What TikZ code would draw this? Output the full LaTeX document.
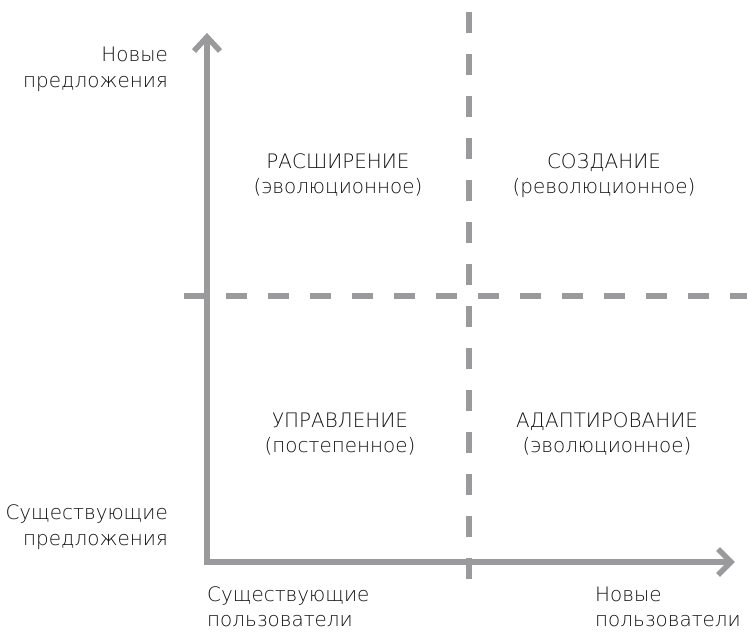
\documentclass[tikz,border=0pt]{standalone}
\usepackage{fontspec}
\setmainfont{DejaVu Sans}[UprightFont={* ExtraLight}]
\definecolor{axisgray}{HTML}{9A9A9C}
\definecolor{textcol}{HTML}{111111}
\tikzset{
  axisline/.style={draw=axisgray, line width=5.5bp, line join=miter},
  gridline/.style={draw=axisgray, line width=5.5bp, dash pattern=on 21bp off 21bp},
  lbl/.style={font=\fontsize{20}{25}\selectfont, text=textcol, inner sep=0pt},
}
\begin{document}
\begin{tikzpicture}[x=1bp,y=-1bp]
\useasboundingbox (0,0) rectangle (747,632);
% dashed dividers
\coordinate (vtop) at (469,12);
\coordinate (vbot) at (469,581);
\coordinate (hleft) at (184,296);
\coordinate (hright) at (747,296);
\draw[gridline] (vtop) -- (vbot);
\draw[gridline] (hleft) -- (hright);
% axes
\coordinate (O) at (207,562);
\coordinate (ytip) at (207,37);
\coordinate (xtip) at (731,562);
\draw[axisline] (ytip) -- (O) -- (xtip);
\draw[axisline] (ytip) ++(-13,14) -- (ytip) -- ++(13,14);
\draw[axisline] (xtip) ++(-13,-13) -- (xtip) -- ++(-13,13);
% axis labels
\node[lbl, anchor=base east] (ny1) at (168,62) {Новые};
\node[lbl, anchor=base east] (ny2) at (168,88) {предложения};
\node[lbl, anchor=base east] (ey1) at (168,519) {Существующие};
\node[lbl, anchor=base east] (ey2) at (168,545) {предложения};
\node[lbl, anchor=base west] (ex1) at (207,601) {Существующие};
\node[lbl, anchor=base west] (ex2) at (207,626) {пользователи};
\node[lbl, anchor=base west] (nx1) at (595,601) {Новые};
\node[lbl, anchor=base west] (nx2) at (595,626) {пользователи};
% quadrant labels
\node[lbl, anchor=base] (q1a) at (338,169) {РАСШИРЕНИЕ};
\node[lbl, anchor=base] (q1b) at (338,194) {(эволюционное)};
\node[lbl, anchor=base] (q2a) at (604,169) {СОЗДАНИЕ};
\node[lbl, anchor=base] (q2b) at (604,194) {(революционное)};
\node[lbl, anchor=base] (q3a) at (340,427) {УПРАВЛЕНИЕ};
\node[lbl, anchor=base] (q3b) at (340,452) {(постепенное)};
\node[lbl, anchor=base] (q4a) at (607,427) {АДАПТИРОВАНИЕ};
\node[lbl, anchor=base] (q4b) at (607,452) {(эволюционное)};
\end{tikzpicture}
\end{document}
